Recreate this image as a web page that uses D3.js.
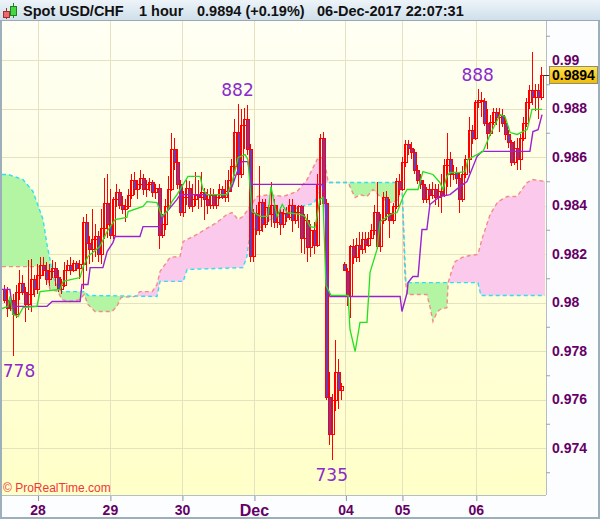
<!DOCTYPE html>
<html>
<head>
<meta charset="utf-8">
<script src="https://cdn.jsdelivr.net/npm/d3@7"></script>
<style>
  html, body { margin: 0; padding: 0; background: #fff; }
  svg { display: block; font-family: "Liberation Sans", Arial, sans-serif; }
</style>
</head>
<body>
<svg id="chart" width="600" height="519"></svg>
<script>
// hourly USD/CHF bars, 27 Nov -> 06 Dec 2017
var opens = [
  .98054,.98012,.97979,.98012,.97951,.98045,.98082,.98045,.97992,.98033,
  .98095,.98054,.98115,.98153,.98136,.98095,.98128,.98144,.98107,.98054,
  .98074,.98136,.98153,.98136,.98161,.98144,.98157,.98334,.98247,.98219,
  .9826,.98276,.98198,.98309,.98412,.98322,.9828,.98425,.98454,.98404,
  .98384,.98396,.98445,.98507,.98466,.98487,.98515,.98466,.98487,.98495,
  .98454,.98474,.9828,.98322,.98396,.98466,.98631,.98581,.98487,.98375,
  .98433,.98474,.98396,.98425,.98445,.98433,.98454,.98425,.98404,.98445,
  .98404,.98437,.98466,.98437,.98458,.98507,.98561,.98705,.98528,.98734,
  .98755,.98631,.9819,.98371,.98301,.98416,.98322,.98392,.98363,.98404,
  .98334,.98375,.98322,.98371,.98351,.98404,.98342,.98375,.98396,.98268,
  .98342,.98227,.98301,.98239,.98487,.9868,.98412,.97612,.97456,.976,
  .97715,.97641,.98157,.98128,.98025,.98231,.98186,.98239,.98219,.9826,
  .98239,.98268,.98301,.98375,.98231,.98342,.98437,.98371,.98342,.98396,
  .98499,.98466,.98581,.98652,.98639,.98619,.98548,.98507,.98487,.98425,
  .98466,.98445,.98466,.98433,.98458,.98445,.98569,.9859,.98528,.9854,
  .98515,.98425,.98528,.9859,.98713,.9868,.98825,.98837,.98829,.98742,
  .98701,.98746,.98784,.98763,.98775,.98742,.98693,.9866,.98581,.98639,
  .9859,.9868,.98742,.98825,.98878,.98849,.98878,.98849
];
var highs = [
  .98074,.98062,.98041,.98033,.98074,.98136,.98115,.98062,.98177,.98181,
  .98115,.98157,.98186,.98186,.98169,.98157,.98177,.98169,.98136,.98095,
  .98165,.98177,.98186,.98177,.98173,.98177,.98351,.98363,.98276,.98384,
  .98322,.98293,.98384,.98515,.98528,.98466,.98433,.98487,.98466,.98441,
  .98425,.98466,.98528,.9854,.98507,.98548,.98528,.98507,.98515,.98507,
  .98487,.98487,.98363,.98425,.9852,.98701,.9868,.98631,.98507,.98458,
  .98507,.98499,.98487,.9854,.98507,.9854,.98474,.98466,.98474,.98466,
  .98445,.98487,.98482,.98507,.98548,.9859,.98755,.9882,.98796,.98804,
  .98816,.98652,.98384,.98404,.98561,.98425,.98425,.98404,.98495,.98425,
  .98404,.98392,.98384,.98392,.98425,.98425,.98404,.98404,.98404,.98363,
  .98363,.98322,.98334,.98528,.98693,.98705,.98425,.97715,.97621,.97847,
  .97765,.9767,.98169,.98144,.98239,.9826,.98268,.98289,.98289,.98289,
  .98289,.98322,.98404,.98495,.98363,.98454,.98458,.98425,.98412,.98515,
  .98528,.98598,.98672,.98672,.9866,.98631,.98569,.98528,.98507,.98478,
  .98487,.98495,.98487,.98487,.98528,.9859,.98701,.98619,.98569,.98557,
  .9854,.98561,.9861,.98767,.98734,.98837,.9888,.98866,.98845,.98796,
  .98775,.98804,.98804,.98804,.98796,.98763,.98713,.98672,.98664,.9868,
  .98693,.98763,.98845,.98895,.99035,.98899,.98899,.98973
];
var lows = [
  .98,.97942,.97963,.9778,.97938,.98012,.98029,.97918,.97971,.97959,
  .98021,.98033,.98095,.98111,.98074,.9807,.98099,.98066,.98045,.98033,
  .98062,.98128,.98115,.98124,.98128,.98095,.98054,.98128,.98157,.98169,
  .98186,.98169,.98157,.9826,.98268,.9826,.9826,.98392,.98384,.98363,
  .98334,.98384,.98425,.98445,.98425,.98466,.98445,.98437,.98458,.98433,
  .98425,.98219,.98268,.98301,.98384,.98458,.98548,.98466,.98355,.98351,
  .98404,.98384,.98375,.98396,.98384,.98392,.98342,.98363,.98384,.98384,
  .98384,.98425,.98425,.98416,.98416,.98454,.9852,.98478,.98515,.98631,
  .9861,.98169,.98169,.9828,.9828,.98289,.98309,.98334,.98313,.98309,
  .98309,.9828,.98309,.98334,.98342,.98289,.98322,.98309,.98206,.98198,
  .98165,.98186,.98198,.98227,.98404,.98392,.976,.97414,.9735,.97551,
  .97559,.976,.98128,.97984,.97938,.98157,.98169,.98169,.98198,.98206,
  .98227,.9826,.9828,.98219,.9821,.98322,.98342,.98268,.98322,.98384,
  .98445,.98458,.98557,.9861,.9859,.98528,.98487,.98466,.98412,.98412,
  .98404,.98425,.98404,.98392,.98371,.98437,.98478,.98478,.98507,.98487,
  .98371,.98416,.98515,.98536,.98652,.98672,.98804,.98767,.98726,.98631,
  .98685,.98734,.98734,.98705,.98722,.98672,.98639,.98561,.98569,.98548,
  .98548,.98664,.98722,.98796,.98816,.98788,.98755,.98837
];
var closes = [
  .98012,.97979,.98012,.97951,.98045,.98082,.98045,.97992,.98033,.98095,
  .98054,.98115,.98153,.98136,.98095,.98128,.98144,.98107,.98054,.98074,
  .98136,.98153,.98136,.98161,.98144,.98157,.98334,.98247,.98219,.9826,
  .98276,.98198,.98309,.98412,.98322,.9828,.98425,.98454,.98404,.98384,
  .98396,.98445,.98507,.98466,.98487,.98515,.98466,.98487,.98495,.98454,
  .98474,.9828,.98322,.98396,.98466,.98631,.98581,.98487,.98375,.98433,
  .98474,.98396,.98425,.98445,.98433,.98454,.98425,.98404,.98445,.98404,
  .98437,.98466,.98437,.98458,.98507,.98561,.98705,.98528,.98734,.98755,
  .98631,.9819,.98371,.98301,.98416,.98322,.98392,.98363,.98404,.98334,
  .98375,.98322,.98371,.98351,.98404,.98342,.98375,.98396,.98268,.98342,
  .98227,.98301,.98239,.98487,.9868,.98412,.97612,.97456,.976,.97715,
  .97641,.97654,.98136,.98025,.98231,.98186,.98239,.98219,.9826,.98239,
  .98268,.98301,.98375,.98231,.98342,.98437,.98371,.98342,.98396,.98499,
  .98466,.98581,.98652,.98639,.98619,.98548,.98507,.98487,.98425,.98466,
  .98445,.98466,.98433,.98458,.98445,.98569,.9859,.98528,.9854,.98515,
  .98425,.98528,.9859,.98713,.9868,.98825,.98837,.98829,.98742,.98701,
  .98746,.98784,.98763,.98775,.98742,.98693,.9866,.98581,.98639,.9859,
  .9868,.98742,.98825,.98878,.98849,.98878,.98849,.9894
];

// ichimoku lines as [bar position, price] vertices
var tenkan = [
  [0,.97975],[2,.97984],[2.6,.98025],[3.6,.97951],[5.3,.97942],[6.9,.97979],
  [11.5,.97984],[12.5,.98045],[19.1,.98054],[20.1,.98087],[25.7,.98103],
  [26.7,.98148],[28.3,.9819],[32.2,.98231],[34.6,.98293],[37.2,.98342],
  [41.1,.98351],[41.5,.98375],[46.4,.98396],[47.7,.98416],[51,.98412],
  [52.6,.98355],[54.3,.98375],[55.9,.98416],[57.6,.98445],[61.2,.9852],
  [65.2,.9852],[66.1,.98466],[67.5,.98445],[74,.98445],[75.7,.98495],
  [77.7,.98598],[80,.9861],[80.9,.9859],[82.3,.98375],[85,.98355],
  [87.5,.98355],[88.5,.98478],[90.5,.98355],[92.2,.98404],[93.8,.98371],
  [98.1,.98363],[99.7,.98355],[101.4,.98313],[103,.98309],[104.6,.98425],
  [105.6,.98433],[106.6,.9807],[108.3,.98029],[113.9,.98029],[114.5,.97889],
  [116.2,.97798],[117.8,.97918],[120.1,.97918],[121.1,.98124],[123.4,.98219],
  [124.4,.98334],[126,.98347],[127.7,.98363],[130,.98371],[132,.98437],
  [133.3,.98466],[136.9,.98466],[138.5,.9854],[141.8,.98528],[144.1,.98495],
  [145.1,.98466],[146.4,.9852],[147.4,.98536],[150,.98536],[152.4,.9854],
  [153.3,.9859],[158.3,.98623],[160.6,.98693],[163.9,.98775],[165.5,.98767],
  [167.2,.98701],[169.5,.98693],[172.8,.98713],[174.4,.98796],[177.7,.98796]
];
var kijun = [
  [0,.98054],[2.6,.98054],[3.3,.97984],[14.8,.97984],[16.5,.98004],
  [25.7,.98004],[26.3,.98074],[28.3,.98074],[29,.98144],[33.2,.98144],
  [34.6,.9821],[36.5,.98247],[37.2,.98272],[45.4,.98272],[46.4,.98313],
  [52,.98313],[53,.98355],[57.6,.98425],[58.6,.98445],[74,.98445],
  [75.7,.98478],[77.3,.98536],[79,.98581],[80.9,.98581],[82.3,.98487],
  [105.3,.98487],[106.3,.98425],[107.3,.98054],[107.9,.98025],[131,.98025],
  [131.6,.97963],[133.3,.98041],[133.6,.98082],[135.2,.98107],[136.9,.98107],
  [138.2,.98301],[139.8,.98301],[140.8,.98404],[144.1,.98437],[147.4,.98445],
  [150.7,.98478],[153,.98499],[156.3,.98602],[157.9,.98623],[173.7,.98623],
  [174.7,.98705],[176.4,.98713],[177.7,.98775]
];
var spanA = [
  [0,.98148],[14.2,.98148],[15.8,.98054],[18.4,.98045],[19.7,.98012],
  [22.4,.98004],[25.7,.98012],[27,.98033],[28.3,.97992],[30.6,.97963],
  [36.2,.97963],[37.8,.97984],[39.2,.98021],[43.8,.98025],[45.4,.98045],
  [49.4,.98045],[51,.98074],[52,.98128],[55.3,.98186],[58.6,.9819],
  [59.6,.98252],[62.9,.98272],[68.4,.98313],[70.7,.9833],[74,.98363],
  [75.7,.98371],[77.7,.98342],[79.3,.98355],[81.6,.98396],[83.9,.98437],
  [88.2,.98445],[92.5,.98437],[97.1,.98458],[100.4,.98507],[103.7,.9859],
  [105.3,.98598],[106.3,.98577],[107.3,.98495],[113.9,.98495],[115.2,.98458],
  [116.2,.98433],[117.8,.98445],[120.1,.98437],[122.1,.98466],[124.4,.98437],
  [126.7,.98416],[128.7,.98412],[130.3,.98425],[131.6,.98487],[132.6,.98107],
  [133.3,.98033],[139.8,.98033],[140.8,.97984],[141.8,.97922],[143.1,.97959],
  [144.1,.97971],[146.4,.97979],[146.8,.98082],[148.1,.98136],[149.1,.98169],
  [151.4,.98186],[154,.98194],[156.6,.98198],[157.9,.9826],[160.6,.98363],
  [163.2,.98416],[166.2,.98437],[169.5,.98437],[171.1,.98466],[172.8,.98495],
  [174.7,.98507],[178.7,.98499]
];
var spanB = [
  [0,.98528],[2,.98528],[6.9,.98507],[10.2,.98458],[11.5,.98412],
  [13.5,.98342],[14.8,.98239],[15.8,.98177],[16.8,.98107],[18.4,.98062],
  [19.7,.98045],[27.3,.98045],[28.3,.98029],[51,.98025],[52,.98087],
  [59.6,.98087],[60.9,.98136],[79.3,.98144],[80.6,.9819],[81.6,.98289],
  [82.6,.98301],[84.9,.98309],[88.2,.98342],[93.1,.98363],[98.1,.98396],
  [101.4,.98404],[103,.98416],[104.6,.98478],[105.6,.98495],[131.6,.98495],
  [132.9,.98082],[156.6,.98082],[157.6,.98029],[178.7,.98029]
];

var dayTicks = [11.7, 35.5, 59.2, 82.9, 113, 131.6, 155.9];
var dayLabels = ["28", "29", "30", "Dec", "04", "05", "06"];
var priceTicks = [0.974, 0.976, 0.978, 0.98, 0.982, 0.984, 0.986, 0.988, 0.99];
var minorTicks = [0.973, 0.975, 0.977, 0.979, 0.981, 0.983, 0.985, 0.987, 0.989, 0.991];

var pivotBars = [3, 77, 108, 156];
var pivotTexts = ["778", "882", "735", "888"];
var pivotLow = [true, false, true, false];

var lastPrice = 0.9894;
var titleParts = [["Spot USD/CHF", 23], ["1 hour", 139], ["0.9894 (+0.19%)", 197], ["06-Dec-2017 22:07:31", 317]];

var plotLeft = 2, plotRight = 546, plotTop = 21, plotBottom = 495;

var svg = d3.select("#chart");
var defs = svg.append("defs");

var x = d3.scaleLinear().domain([0, 179]).range([plotLeft, plotRight]);
var y = d3.scaleLinear().domain([0.974, 0.99]).range([448, 60]);

// gradients
var bg = defs.append("linearGradient").attr("id", "bg").attr("x1", 0).attr("y1", 0).attr("x2", 0).attr("y2", 1);
bg.append("stop").attr("offset", "0%").attr("stop-color", "#fffff4");
bg.append("stop").attr("offset", "100%").attr("stop-color", "#ffffc8");

var tb = defs.append("linearGradient").attr("id", "tb").attr("x1", 0).attr("y1", 0).attr("x2", 0).attr("y2", 1);
tb.append("stop").attr("offset", "0%").attr("stop-color", "#edf4f9");
tb.append("stop").attr("offset", "100%").attr("stop-color", "#cfdfeb");

var tag = defs.append("linearGradient").attr("id", "tag").attr("x1", 0).attr("y1", 0).attr("x2", 0).attr("y2", 1);
tag.append("stop").attr("offset", "0%").attr("stop-color", "#ffe34f");
tag.append("stop").attr("offset", "100%").attr("stop-color", "#f2b900");

defs.append("clipPath").attr("id", "plotclip").append("rect")
    .attr("x", plotLeft).attr("y", plotTop)
    .attr("width", plotRight - plotLeft).attr("height", plotBottom - plotTop);

// outer panels
svg.append("rect").attr("width", 600).attr("height", 519).attr("fill", "#fbfdfe");
svg.append("rect").attr("x", plotLeft).attr("y", plotTop)
    .attr("width", plotRight - plotLeft).attr("height", plotBottom - plotTop)
    .attr("fill", "url(#bg)");

var plot = svg.append("g").attr("clip-path", "url(#plotclip)");

// grid
plot.selectAll(".hgrid").data(priceTicks).enter().append("line")
    .attr("x1", plotLeft).attr("x2", plotRight)
    .attr("y1", function(d) { return Math.round(y(d)) + 0.5; })
    .attr("y2", function(d) { return Math.round(y(d)) + 0.5; })
    .attr("stroke", "#e4e2bf");
plot.selectAll(".vgrid").data(dayTicks).enter().append("line")
    .attr("y1", plotTop).attr("y2", plotBottom)
    .attr("x1", function(d) { return Math.round(x(d)) + 0.5; })
    .attr("x2", function(d) { return Math.round(x(d)) + 0.5; })
    .attr("stroke", "#e4e2bf");

// ichimoku cloud: fill between the spans, coloured by which one is on top
var above = function(pts) {
    return d3.area().x(function(d) { return x(d[0]); })
        .y0(plotTop).y1(function(d) { return y(d[1]); })(pts);
};
var below = function(pts) {
    return d3.area().x(function(d) { return x(d[0]); })
        .y0(plotBottom).y1(function(d) { return y(d[1]); })(pts);
};
defs.append("clipPath").attr("id", "aboveA").append("path").attr("d", above(spanA));
defs.append("clipPath").attr("id", "aboveB").append("path").attr("d", above(spanB));

plot.append("g").attr("clip-path", "url(#aboveA)")
    .append("path").attr("d", below(spanB)).attr("fill", "#b3f5a3");
plot.append("g").attr("clip-path", "url(#aboveB)")
    .append("path").attr("d", below(spanA)).attr("fill", "#fbc9ec");

var line = d3.line().x(function(d) { return x(d[0]); }).y(function(d) { return y(d[1]); });

plot.append("path").attr("d", line(spanA)).attr("fill", "none")
    .attr("stroke", "#f58a8a").attr("stroke-width", 1.4).attr("stroke-dasharray", "4,3");
plot.append("path").attr("d", line(spanB)).attr("fill", "none")
    .attr("stroke", "#2ee0f2").attr("stroke-width", 1.4).attr("stroke-dasharray", "4,3");

// candles
var bars = plot.append("g").selectAll("g").data(d3.range(closes.length)).enter().append("g");
var cx = function(i) { return Math.round(x(i + 0.5)); };

bars.append("line")
    .attr("x1", function(i) { return cx(i) + 0.5; })
    .attr("x2", function(i) { return cx(i) + 0.5; })
    .attr("y1", function(i) { return Math.round(y(highs[i])); })
    .attr("y2", function(i) { return Math.round(y(lows[i])); })
    .attr("stroke", "#ff0000");

bars.append("rect")
    .attr("x", function(i) { return cx(i) - 0.5; })
    .attr("width", 3)
    .attr("y", function(i) { return Math.round(y(Math.max(opens[i], closes[i]))) + 0.5; })
    .attr("height", function(i) {
        return Math.max(1, Math.round(y(Math.min(opens[i], closes[i]))) - Math.round(y(Math.max(opens[i], closes[i]))));
    })
    .attr("fill", function(i) { return closes[i] < opens[i] ? "#6b3cb6" : "none"; })
    .attr("stroke", "#ff0000");

// tenkan and kijun
plot.append("path").attr("d", line(kijun)).attr("fill", "none")
    .attr("stroke", "#9a22d2").attr("stroke-width", 1.4);
plot.append("path").attr("d", line(tenkan)).attr("fill", "none")
    .attr("stroke", "#22e022").attr("stroke-width", 1.3);

// swing labels
plot.selectAll(".pivot").data(pivotBars).enter().append("text")
    .attr("x", function(b) { return Math.max(19, x(b + 0.5)); })
    .attr("y", function(b, k) { return pivotLow[k] ? y(lows[b]) + 21 : y(highs[b]) - 8; })
    .attr("text-anchor", "middle")
    .attr("font-family", "DejaVu Sans, sans-serif")
    .attr("font-size", 17)
    .attr("fill", "#8a2bcc")
    .text(function(b, k) { return pivotTexts[k]; });

svg.append("text").attr("x", 3).attr("y", 492)
    .attr("font-size", 12).attr("fill", "#f03838")
    .text("\u00a9 ProRealTime.com");

// frame lines
svg.append("line").attr("x1", plotRight + 0.5).attr("x2", plotRight + 0.5)
    .attr("y1", plotTop).attr("y2", plotBottom).attr("stroke", "#b5bec6");
svg.append("line").attr("x1", plotLeft).attr("x2", plotRight)
    .attr("y1", plotBottom + 0.5).attr("y2", plotBottom + 0.5).attr("stroke", "#b5bec6");
svg.append("rect").attr("x", 0).attr("y", 0).attr("width", 2).attr("height", 519).attr("fill", "#9eafbc");
svg.append("rect").attr("x", 598).attr("y", 0).attr("width", 2).attr("height", 519).attr("fill", "#9eafbc");
svg.append("rect").attr("x", 0).attr("y", 517).attr("width", 600).attr("height", 2).attr("fill", "#9eafbc");

// right price axis
var yAxis = svg.append("g").attr("transform", "translate(" + plotRight + ",0)")
    .call(d3.axisRight(y).tickValues(priceTicks).tickSize(0).tickPadding(6)
        .tickFormat(d3.format(".3~f")));
yAxis.select(".domain").remove();
yAxis.selectAll("text").attr("font-size", 14).attr("font-weight", "bold")
    .attr("font-family", "Liberation Sans, Arial, sans-serif").attr("fill", "#660066");
var yMinor = svg.append("g").attr("transform", "translate(" + plotRight + ",0)")
    .call(d3.axisRight(y).tickValues(minorTicks).tickSize(4).tickFormat(""));
yMinor.select(".domain").remove();
yMinor.selectAll("line").attr("stroke", "#9aa3ab");

// last price tag
svg.append("line").attr("x1", plotRight - 2).attr("x2", plotRight + 3)
    .attr("y1", Math.round(y(lastPrice)) + 0.5).attr("y2", Math.round(y(lastPrice)) + 0.5)
    .attr("stroke", "#333");
svg.append("rect").attr("x", 549.5).attr("y", Math.round(y(lastPrice)) - 8.5)
    .attr("width", 48).attr("height", 17).attr("fill", "url(#tag)").attr("stroke", "#8d8c78");
svg.append("text").attr("x", 573.5).attr("y", y(lastPrice) + 5)
    .attr("text-anchor", "middle").attr("font-size", 14).attr("font-weight", "bold")
    .attr("fill", "#000").text(d3.format(".4f")(lastPrice));

// bottom date axis
var xAxis = svg.append("g").attr("transform", "translate(0," + (plotBottom + 1) + ")")
    .call(d3.axisBottom(x).tickValues(dayTicks).tickSize(5).tickPadding(4)
        .tickFormat(function(d, k) { return dayLabels[k]; }));
xAxis.select(".domain").remove();
xAxis.selectAll("line").attr("stroke", "#8a939b")
    .attr("transform", function() { return "translate(0.5,0)"; });
xAxis.selectAll("text").attr("font-size", function(d, k) { return dayLabels[k] === "Dec" ? 16 : 14; })
    .attr("font-weight", "bold").attr("fill", "#660066")
    .attr("font-family", "Liberation Sans, Arial, sans-serif");

// title bar
svg.append("rect").attr("x", 0).attr("y", 0).attr("width", 600).attr("height", 20).attr("fill", "url(#tb)");
svg.append("line").attr("x1", 0).attr("x2", 600).attr("y1", 20.5).attr("y2", 20.5).attr("stroke", "#9aa8b5");

var icon = svg.append("g");
icon.append("line").attr("x1", 6.5).attr("x2", 6.5).attr("y1", 8).attr("y2", 19).attr("stroke", "#a03030");
icon.append("rect").attr("x", 3.5).attr("y", 11.5).attr("width", 6).attr("height", 6)
    .attr("fill", "#e86a6a").attr("stroke", "#a03030");
icon.append("line").attr("x1", 13.5).attr("x2", 13.5).attr("y1", 3).attr("y2", 18).attr("stroke", "#208020");
icon.append("rect").attr("x", 10.5).attr("y", 6.5).attr("width", 6).attr("height", 9)
    .attr("fill", "#45d645").attr("stroke", "#208020");

svg.selectAll(".title").data(titleParts).enter().append("text")
    .attr("x", function(d) { return d[1]; }).attr("y", 16)
    .attr("font-size", 14.5).attr("font-weight", "bold").attr("fill", "#111")
    .text(function(d) { return d[0]; });
</script>
</body>
</html>
